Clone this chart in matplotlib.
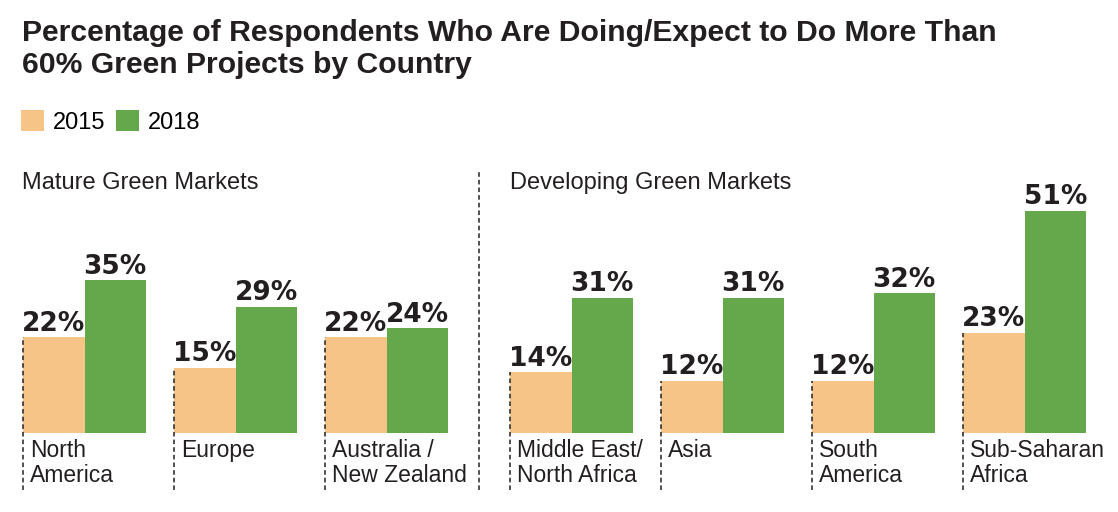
import matplotlib
matplotlib.use('Agg')
import matplotlib.pyplot as plt
import matplotlib.font_manager as fm

regions = ['North\nAmerica', 'Europe', 'Australia /\nNew Zealand',
           'Middle East/\nNorth Africa', 'Asia', 'South\nAmerica', 'Sub-Saharan\nAfrica']
pct_2015 = [22, 15, 22, 14, 12, 12, 23]
pct_2018 = [35, 29, 24, 31, 31, 32, 51]
years = ['2015', '2018']
sections = ['Mature Green Markets', 'Developing Green Markets']
n_mature = 3

ORANGE = '#F6C487'
GREEN = '#65A84B'
INK = '#231F20'

names = {f.name for f in fm.fontManager.ttflist}
narrow = 'Liberation Sans Narrow' if 'Liberation Sans Narrow' in names else 'Liberation Sans'

W, H = 1118, 512
fig = plt.figure(figsize=(W / 100, H / 100), dpi=100)

# axes: baseline at 433 px from top, 4.36 px per percent
ppu = 4.36
ymax = 60
ax = fig.add_axes([0, (H - 433) / H, 1, ymax * ppu / H])
ax.set_ylim(0, ymax)
group = 151.0
ax.set_xlim(-23 / group, (W - 23) / group)
ax.axis('off')

w = 61.5 / group
gap = 34 / group
pos = [i + (gap if i >= n_mature else 0) for i in range(len(regions))]

b1 = ax.bar(pos, pct_2015, width=w, align='edge', color=ORANGE, label=years[0])
b2 = ax.bar([p + w for p in pos], pct_2018, width=w, align='edge', color=GREEN, label=years[1])

bottom = -57 / ppu
for p, a, b, name in zip(pos, pct_2015, pct_2018, regions):
    ax.text(p + w / 2, a + 0.1, f'{a}%', ha='center', va='bottom',
            fontsize=19, fontweight='bold', color=INK, family='DejaVu Sans')
    ax.text(p + 1.5 * w, b + 0.1, f'{b}%', ha='center', va='bottom',
            fontsize=19, fontweight='bold', color=INK, family='DejaVu Sans')
    ax.plot([p, p], [bottom, a], ls=(0, (3, 2)), lw=1.1, color=INK, clip_on=False)
    ax.text(p + 7 / group, -1.4, name, ha='left', va='top', fontsize=16.5,
            family=narrow, color=INK, linespacing=1.12)

# divider between the two market groups
mid = (pos[n_mature - 1] + 2 * w + pos[n_mature]) / 2
ax.plot([mid, mid], [bottom, (433 - 172) / ppu], ls=(0, (3, 2)), lw=1.1, color=INK, clip_on=False)

ax.text(pos[0] - 1 / group, 57.3, sections[0], ha='left', va='center',
        fontsize=17, family=narrow, color=INK)
ax.text(pos[n_mature], 57.3, sections[1], ha='left', va='center',
        fontsize=17, family=narrow, color=INK)

fig.text(22 / W, 1 - 19 / H,
         'Percentage of Respondents Who Are Doing/Expect to Do More Than\n60% Green Projects by Country',
         ha='left', va='top', fontsize=21.7, fontweight='bold', family='Liberation Sans',
         color=INK, linespacing=1.2)

fig.legend(handles=[b1, b2], labels=years, loc='upper left',
           bbox_to_anchor=(0 / W, 1 - 89 / H), ncol=2, frameon=False,
           handlelength=0.95, handleheight=0.95, handletextpad=0.4,
           columnspacing=0.45, prop={'family': narrow, 'size': 17})

fig.savefig('out.png', dpi=100)
